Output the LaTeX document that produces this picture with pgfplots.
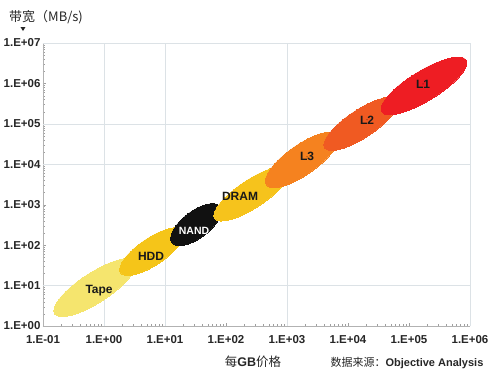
\documentclass[border=0pt]{standalone}
\usepackage{pgfplots}
\pgfplotsset{compat=1.18}
\usepackage{fontspec}
\setmainfont{Liberation Sans}
\newfontfamily\cjk{Noto Sans CJK SC}
\definecolor{tapec}{HTML}{F5E56E}
\definecolor{hddc}{HTML}{F5C519}
\definecolor{nandc}{HTML}{111111}
\definecolor{dramc}{HTML}{F6C31C}
\definecolor{lthree}{HTML}{F5821F}
\definecolor{ltwo}{HTML}{F05A22}
\definecolor{lone}{HTML}{EE1D23}
\definecolor{gridc}{HTML}{DCE2E6}
\begin{document}
\begin{tikzpicture}
\begin{axis}[
  xmode=log, ymode=log,
  scale only axis, width=427pt, height=283pt,
  xmin=0.1, xmax=1e6, ymin=1, ymax=1e7,
  axis lines*=left,
  axis line style={gray!60},
  clip=false,
  xtick={0.1,1,10,100,1000,10000,100000,1000000},
  xticklabels={1.E-01,1.E+00,1.E+01,1.E+02,1.E+03,1.E+04,1.E+05,1.E+06},
  ytick={1,10,100,1000,10000,100000,1000000,10000000},
  yticklabels={1.E+00,1.E+01,1.E+02,1.E+03,1.E+04,1.E+05,1.E+06,1.E+07},
  ticklabel style={font=\bfseries\fontsize{11.5}{13}\selectfont, text=black!85},
  xticklabel style={yshift=-6pt},
  yticklabel style={xshift=1pt},
  tick style={gray!75},
  major tick length=3.5pt, minor tick length=2.5pt,
  tick align=inside,
  extra x ticks={1,10,1000,1000000},
  extra x tick labels={},
  extra x tick style={grid=major, major tick length=0pt},
  extra y ticks={10,10000,100000,10000000},
  extra y tick labels={},
  extra y tick style={grid=major, major tick length=0pt},
  grid style={gridc, line width=0.6pt},
]
\coordinate (o) at (rel axis cs:0,0);
% ellipses: centre (price per GB, bandwidth MB/s)
\addplot[only marks, color=tapec, mark=*, mark size=15pt, mark options={draw=tapec, fill=tapec, line width=0pt, rotate=33, xscale=3.2}] coordinates {(0.71,8.9)};
\addplot[only marks, color=hddc, mark=*, mark size=13.5pt, mark options={draw=hddc, fill=hddc, line width=0pt, rotate=34, xscale=2.8}] coordinates {(6.1,69)};
\addplot[only marks, color=nandc, mark=*, mark size=13.5pt, mark options={draw=nandc, fill=nandc, line width=0pt, rotate=37, xscale=2.22}] coordinates {(32.2,321)};
\addplot[only marks, color=dramc, mark=*, mark size=14pt, mark options={draw=dramc, fill=dramc, line width=0pt, rotate=33.5, xscale=3.2}] coordinates {(267,1871)};
\addplot[only marks, color=lthree, mark=*, mark size=15pt, mark options={draw=lthree, fill=lthree, line width=0pt, rotate=35, xscale=2.9}] coordinates {(1760,12900)};
\addplot[only marks, color=ltwo, mark=*, mark size=14pt, mark options={draw=ltwo, fill=ltwo, line width=0pt, rotate=33.5, xscale=3.1}] coordinates {(16300,100000)};
\addplot[only marks, color=lone, mark=*, mark size=15pt, mark options={draw=lone, fill=lone, line width=0pt, rotate=31.5, xscale=3.3}] coordinates {(176000,867000)};
% labels
\addplot[only marks, mark=*, mark size=0.1pt, mark options={draw=none, fill=none},
  nodes near coords, point meta=explicit symbolic, nodes near coords align=center,
  every node near coord/.append style={font=\bfseries\fontsize{12}{14}\selectfont, text=black!90, anchor=center}]
  table[meta=label] {
x y label
0.83 7.5 Tape
5.9 52 HDD
170 1580 DRAM
2130 15300 L3
20500 125600 L2
170000 972000 L1
};
\addplot[only marks, mark=*, mark size=0.1pt, mark options={draw=none, fill=none},
  nodes near coords, point meta=explicit symbolic, nodes near coords align=center,
  every node near coord/.append style={font=\bfseries\fontsize{10.5}{12}\selectfont, text=white, anchor=center}]
  table[meta=label] {
x y label
29.9 228 NAND
};
\end{axis}
\node[anchor=west, inner sep=0pt, font=\fontsize{13}{15}\selectfont, text=black!85] at ([xshift=-34pt,yshift=309pt]o) {\cjk 带宽（MB/s)};
\fill[black!85] ([xshift=-22.5pt,yshift=299pt]o) -- ([xshift=-17.5pt,yshift=299pt]o) -- ([xshift=-20pt,yshift=295pt]o) -- cycle;
\node[inner sep=0pt, font=\fontsize{12.5}{14}\selectfont, text=black!85] at ([xshift=210pt,yshift=-36pt]o) {{\cjk 每}\textbf{GB}{\cjk 价格}};
\node[inner sep=0pt, font=\fontsize{11}{13}\selectfont, text=black!85] at ([xshift=364pt,yshift=-37pt]o) {{\cjk 数据来源：}\textbf{Objective Analysis}};
\pgfresetboundingbox
\useasboundingbox ([xshift=-43pt,yshift=-58pt]o) rectangle ([xshift=457pt,yshift=326pt]o);
\end{tikzpicture}
\end{document}
